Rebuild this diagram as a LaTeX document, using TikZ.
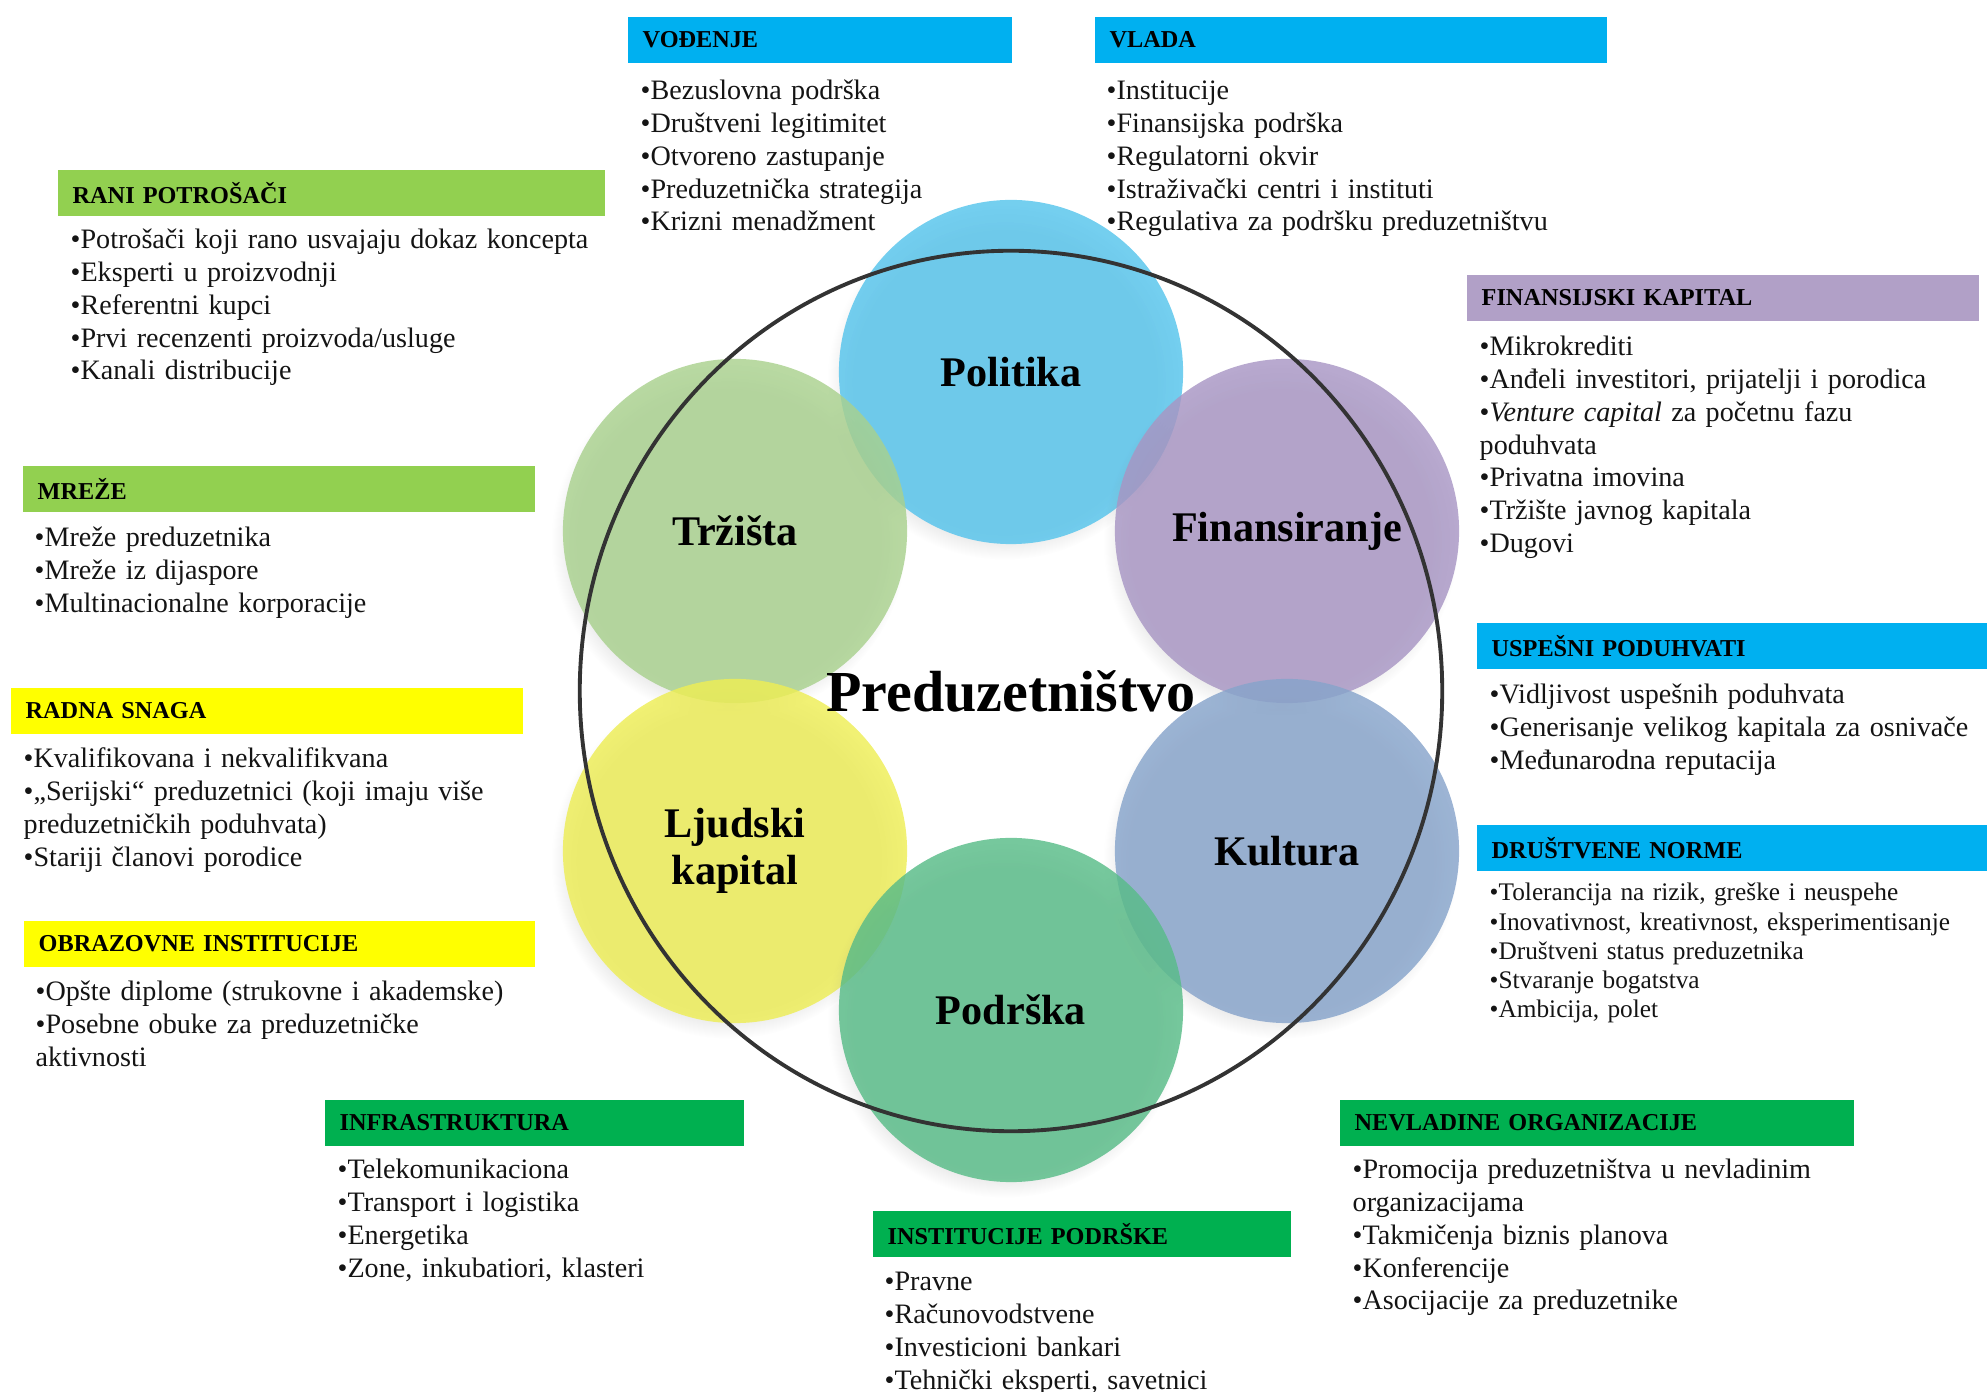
\documentclass[tikz,border=0pt]{standalone}
\usepackage{fontspec}
\setmainfont{Liberation Serif}
\usetikzlibrary{shadows}

\definecolor{plava}{HTML}{00B0F0}
\definecolor{svzelena}{HTML}{92D050}
\definecolor{ljubicasta}{HTML}{B1A0C7}
\definecolor{zuta}{HTML}{FFFF00}
\definecolor{zelena}{HTML}{00B050}
\definecolor{polc}{HTML}{55C4EC}
\definecolor{trzc}{HTML}{A9D18E}
\definecolor{finc}{HTML}{A896C4}
\definecolor{ljuc}{HTML}{EEEE55}
\definecolor{kulc}{HTML}{87A4CB}
\definecolor{podc}{HTML}{58BC88}

\tikzset{
  traka/.style={anchor=north west, minimum height=0.46cm, inner xsep=0.15cm, inner ysep=0pt,
    align=left, font=\fontsize{6.9}{8}\selectfont\bfseries, text=black},
  lista/.style={anchor=base west, inner sep=0pt, text width=6cm, align=left,
    font=\fontsize{8.0}{9.3}\selectfont, text=black!92},
  krug/.style={circle, minimum size=3.44cm, inner sep=0pt, fill opacity=0.82, text opacity=1,
    align=center, font=\fontsize{12}{13.5}\selectfont\bfseries,
    circular drop shadow={shadow xshift=-0.06cm, shadow yshift=-0.1cm, shadow scale=1.03, opacity=0.22}},
}

\begin{document}
\begin{tikzpicture}[x=0.01cm,y=-0.01cm]
  \useasboundingbox (0,0) rectangle (1987,1392);

  \node[krug, fill=polc] (politika) at (1011,372) {Politika};
  \node[krug, fill=trzc] (trzista) at (735,531) {Tržišta};
  \node[krug, fill=finc] (finansiranje) at (1287,531) {Finansiranje};
  \node[krug, fill=ljuc] (ljudski) at (735,851) {Ljudski\\kapital};
  \node[krug, fill=kulc] (kultura) at (1287,851) {Kultura};
  \node[krug, fill=podc] (podrska) at (1011,1010) {Podrška};

  \draw[line width=1.1pt, black!80] (1011,691) ellipse [x radius=4.31cm, y radius=4.40cm];
  \node[font=\fontsize{16.5}{18}\selectfont\bfseries] (preduzetnistvo) at (1011,691) {Preduzetništvo};

  \node[traka, fill=plava, text width=3.54cm] (vodenje) at (627,16) {VOĐENJE};
  \node[lista] (vodenjeL) at (640,100) {•Bezuslovna podrška\\•Društveni legitimitet\\•Otvoreno zastupanje\\•Preduzetnička strategija\\•Krizni menadžment};

  \node[traka, fill=plava, text width=4.82cm] (vlada) at (1094,16) {VLADA};
  \node[lista] (vladaL) at (1106,100) {•Institucije\\•Finansijska podrška\\•Regulatorni okvir\\•Istraživački centri i instituti\\•Regulativa za podršku preduzetništvu};

  \node[traka, fill=svzelena, text width=5.17cm] (rani) at (57,169) {RANI POTROŠAČI};
  \node[lista] (raniL) at (70,249) {•Potrošači koji rano usvajaju dokaz koncepta\\•Eksperti u proizvodnji\\•Referentni kupci\\•Prvi recenzenti proizvoda/usluge\\•Kanali distribucije};

  \node[traka, fill=svzelena, text width=4.82cm] (mreze) at (22,465) {MREŽE};
  \node[lista] (mrezeL) at (34,547) {•Mreže preduzetnika\\•Mreže iz dijaspore\\•Multinacionalne korporacije};

  \node[traka, fill=zuta, text width=4.82cm] (radna) at (10,687) {RADNA SNAGA};
  \node[lista] (radnaL) at (23,768) {•Kvalifikovana i nekvalifikvana\\•„Serijski“ preduzetnici (koji imaju više\\preduzetničkih poduhvata)\\•Stariji članovi porodice};

  \node[traka, fill=zuta, text width=4.81cm] (obrazovne) at (23,920) {OBRAZOVNE INSTITUCIJE};
  \node[lista] (obrazovneL) at (35,1001) {•Opšte diplome (strukovne i akademske)\\•Posebne obuke za preduzetničke\\aktivnosti};

  \node[traka, fill=zelena, text width=3.89cm] (infra) at (324,1099) {INFRASTRUKTURA};
  \node[lista] (infraL) at (337,1179) {•Telekomunikaciona\\•Transport i logistika\\•Energetika\\•Zone, inkubatiori, klasteri};

  \node[traka, fill=zelena, text width=3.88cm] (institucije) at (872,1210) {INSTITUCIJE PODRŠKE};
  \node[lista] (institucijeL) at (884,1291) {•Pravne\\•Računovodstvene\\•Investicioni bankari\\•Tehnički eksperti, savetnici};

  \node[traka, fill=zelena, text width=4.84cm] (nevladine) at (1339,1099) {NEVLADINE ORGANIZACIJE};
  \node[lista] (nevladineL) at (1352,1179) {•Promocija preduzetništva u nevladinim\\organizacijama\\•Takmičenja biznis planova\\•Konferencije\\•Asocijacije za preduzetnike};

  \node[traka, fill=ljubicasta, text width=4.82cm] (finkap) at (1466,274) {FINANSIJSKI KAPITAL};
  \node[lista] (finkapL) at (1479,356) {•Mikrokrediti\\•Anđeli investitori, prijatelji i porodica\\•\textit{Venture capital} za početnu fazu\\poduhvata\\•Privatna imovina\\•Tržište javnog kapitala\\•Dugovi};

  \node[traka, fill=plava, text width=4.81cm] (uspesni) at (1476,622) {USPEŠNI PODUHVATI};
  \node[lista] (uspesniL) at (1489,704) {•Vidljivost uspešnih poduhvata\\•Generisanje velikog kapitala za osnivače\\•Međunarodna reputacija};

  \node[traka, fill=plava, text width=4.81cm] (norme) at (1476,824) {DRUŠTVENE NORME};
  \node[lista, font=\fontsize{7.2}{8.25}\selectfont] (normeL) at (1489,901) {•Tolerancija na rizik, greške i neuspehe\\•Inovativnost, kreativnost, eksperimentisanje\\•Društveni status preduzetnika\\•Stvaranje bogatstva\\•Ambicija, polet};
\end{tikzpicture}
\end{document}
